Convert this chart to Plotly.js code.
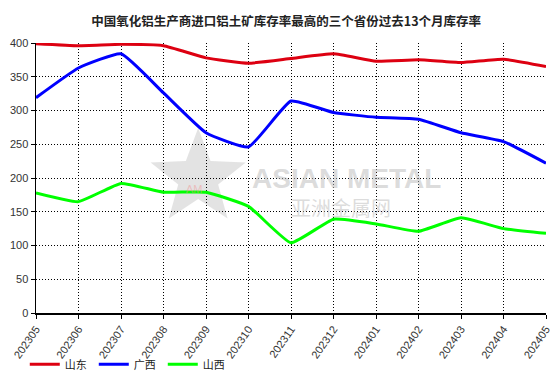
<!DOCTYPE html>
<html><head><meta charset="utf-8">
<script src="https://cdn.plot.ly/plotly-3.0.1.min.js"></script>
<style>html,body{margin:0;padding:0;background:#fff;}#c{width:560px;height:385px;}</style>
</head><body><div id="c"></div>
<script>
const months = ["202305","202306","202307","202308","202309","202310","202311","202312","202401","202402","202403","202404","202405"];
const shandong = [399, 396, 398, 396, 378, 370, 377, 384, 373, 375, 371, 376, 365];
const guangxi = [319, 363, 384, 326, 267, 246, 314, 297, 290, 287, 267, 254, 222];
const shanxi = [178, 165, 192, 179, 179, 158, 104, 139, 132, 121, 141, 125, 118];
const seriesNames = ["山东", "广西", "山西"];
const yTicks = [0, 50, 100, 150, 200, 250, 300, 350, 400];

const colors = ["#dd0011", "#0000ff", "#00ff00"];
const data = [shandong, guangxi, shanxi].map((ys, i) => ({
  x: months, y: ys, name: seriesNames[i], type: "scatter", mode: "lines",
  line: {color: colors[i], width: 3, shape: "spline", smoothing: 0.4},
  hoverinfo: "none"
}));

// watermark star (paper coords)
const cx = 0.318, cy = 0.50, rx = 0.098, ry = 0.185;
const pts = [];
for (let k = 0; k < 10; k++) {
  const a = Math.PI / 2 + k * Math.PI / 5;
  const r = (k % 2 === 0) ? 1 : 0.42;
  pts.push((cx + r * rx * Math.cos(a)).toFixed(4) + "," + (cy + r * ry * Math.sin(a)).toFixed(4));
}
const path = "M" + pts.join(" L") + " Z";

const layout = {
  width: 560, height: 385,
  margin: {l: 36, r: 14, t: 43, b: 72, autoexpand: false},
  paper_bgcolor: "#fff", plot_bgcolor: "#fff",
  font: {family: "Liberation Sans, Arial, sans-serif", size: 11, color: "#222"},
  title: {text: "<b>中国氧化铝生产商进口铝土矿库存率最高的三个省份过去13个月库存率</b>",
    font: {family: "Noto Sans CJK SC", size: 12.5, color: "#222"},
    x: 0.511, xanchor: "center", y: 0.943, yanchor: "middle"},
  xaxis: {
    type: "category", range: [0, 12], tickangle: -55, automargin: false,
    showgrid: true, gridcolor: "#000", griddash: "1px,2px", gridwidth: 1,
    showline: true, linecolor: "#000", linewidth: 1.5,
    ticks: "outside", ticklen: 4, tickcolor: "#000",
    tickfont: {size: 11, color: "#333"}, zeroline: false, fixedrange: true
  },
  yaxis: {
    range: [0, 400], tickvals: yTicks, ticktext: yTicks.map(String), automargin: false,
    showgrid: true, gridcolor: "#000", griddash: "1px,2px", gridwidth: 1,
    showline: true, linecolor: "#000", linewidth: 1.5,
    ticks: "outside", ticklen: 4, tickcolor: "#000",
    tickfont: {size: 11, color: "#333"}, zeroline: false, fixedrange: true
  },
  showlegend: true,
  legend: {orientation: "h", x: -0.022, xanchor: "left", y: -0.19, yanchor: "middle",
    bgcolor: "rgba(0,0,0,0)",
    font: {family: "Noto Sans CJK SC", size: 11, color: "#222"},
    entrywidth: 24, entrywidthmode: "pixels", tracegroupgap: 0},
  shapes: [{type: "path", xref: "paper", yref: "paper", path: path,
    fillcolor: "rgba(200,200,200,0.5)", line: {width: 0}, layer: "below"}],
  annotations: [
    {xref: "paper", yref: "paper", x: 0.42, y: 0.497, xanchor: "left", yanchor: "middle",
     text: "<b>ASIAN METAL</b>", showarrow: false,
     font: {family: "Liberation Sans", size: 28, color: "rgba(190,190,190,0.55)"}},
    {xref: "paper", yref: "paper", x: 0.497, y: 0.39, xanchor: "left", yanchor: "middle",
     text: "亚洲金属网", showarrow: false,
     font: {family: "Noto Sans CJK SC", size: 20, color: "rgba(190,190,190,0.55)"}},
    {xref: "paper", yref: "paper", x: 0.31, y: 0.46, xanchor: "center", yanchor: "middle",
     text: "AM", showarrow: false,
     font: {family: "Liberation Sans", size: 11, color: "rgba(240,150,150,0.5)"}}
  ]
};
Plotly.newPlot("c", data, layout, {displayModeBar: false, staticPlot: true});
</script></body></html>
